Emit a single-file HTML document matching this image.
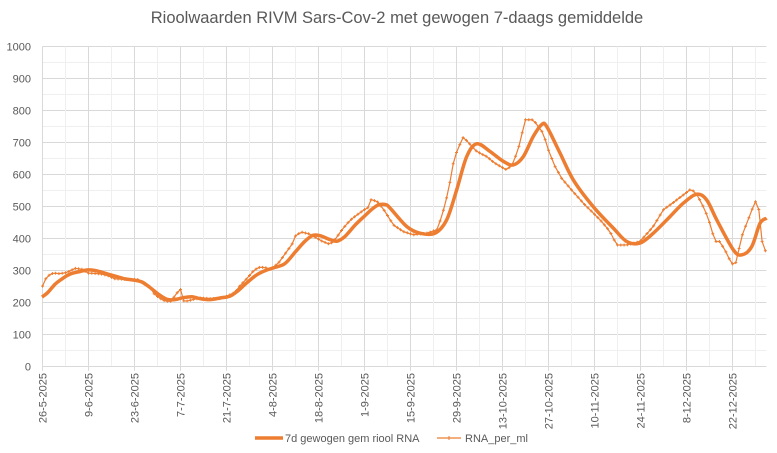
<!DOCTYPE html>
<html><head><meta charset="utf-8"><style>
html,body{margin:0;padding:0;background:#fff;}
svg{display:block;font-family:"Liberation Sans",Arial,sans-serif;}
</style></head><body>
<svg id="s" width="777" height="453" viewBox="0 0 777 453" xmlns="http://www.w3.org/2000/svg">
<rect width="777" height="453" fill="#fff"/>
<text x="397" y="23" text-anchor="middle" font-size="16.5" fill="#595959">Rioolwaarden RIVM Sars-Cov-2 met gewogen 7-daags gemiddelde</text>
<g id="grid"></g>
<g id="lab" font-size="11" fill="#595959"></g>
<g id="data"></g>
<line x1="255" y1="438" x2="283" y2="438" stroke="#ED7D31" stroke-width="3.5"/>
<text x="285" y="442" font-size="11" fill="#595959">7d gewogen gem riool RNA</text>
<line x1="437" y1="438" x2="461" y2="438" stroke="#ED7D31" stroke-width="1.3"/>
<path d="M447 438h4M449 436v4" stroke="#ED7D31" stroke-width="1"/>
<text x="465" y="442" font-size="11" fill="#595959">RNA_per_ml</text>
</svg>
<script>
var NS="http://www.w3.org/2000/svg";
function el(p,t,a){var e=document.createElementNS(NS,t);for(var k in a)e.setAttribute(k,a[k]);p.appendChild(e);return e;}
var g=document.getElementById('grid'),lab=document.getElementById('lab'),d=document.getElementById('data');
var X0=42.5,X1=766.5,Y0=365.7,S=0.3193;
function Y(v){return Y0-v*S;}
// horizontal grid
for(var v=0;v<=1000;v+=50){var y=Math.round(Y(v))+0.5;
 el(g,'line',{x1:X0,x2:X1,y1:y,y2:y,stroke:v%100?'#efefef':'#d9d9d9','stroke-width':1});
 if(v%100==0){var t=el(lab,'text',{x:31,y:y+4,'text-anchor':'end'});t.textContent=v;}}
var labels=["26-5-2025","9-6-2025","23-6-2025","7-7-2025","21-7-2025","4-8-2025","18-8-2025","1-9-2025","15-9-2025","29-9-2025","13-10-2025","27-10-2025","10-11-2025","24-11-2025","8-12-2025","22-12-2025"];
var step=46/14;
for(var i=0;i*7*step+X0<=X1+0.5;i++){var x=Math.round(X0+i*7*step-0.5)+0.5;
 el(g,'line',{x1:x,x2:x,y1:Y(1000),y2:Y0,stroke:i%2?'#efefef':'#d9d9d9','stroke-width':1});
 if(i%2==0){el(g,'line',{x1:x,x2:x,y1:Y0,y2:Y0+5,stroke:'#d9d9d9'});
  var t=el(lab,'text',{transform:'translate('+(x+4)+',373) rotate(-90)','text-anchor':'end'});t.textContent=labels[i/2];}}
el(g,'line',{x1:X0,x2:X1,y1:Math.round(Y0)+0.5,y2:Math.round(Y0)+0.5,stroke:'#d9d9d9'});
var sm=[[42,215],[48,230],[55,255],[62,272],[70,287],[80,295],[88,300],[95,298],[103,292],[110,285],[118,278],[125,272],[134,268],[142,262],[150,245],[158,225],[167,208],[175,207],[183,213],[192,216],[200,210],[210,207],[220,212],[230,218],[238,235],[247,260],[257,285],[267,300],[275,308],[285,320],[295,355],[305,390],[313,408],[320,407],[330,395],[337,390],[345,405],[355,440],[365,470],[372,490],[378,503],[385,505],[390,494],[406.7,436],[420,415],[435,415],[446.7,457],[456.7,551],[466.7,655],[476.7,695],[490,671],[503.3,640],[513.3,629],[523.3,655],[533.3,718],[541.7,755],[546.7,749],[560,666],[573.3,582],[593.3,498],[613.3,431],[626.7,389],[640,384],[653.3,415],[670,467],[683.3,509],[696.7,537],[706.7,519],[716.7,457],[733.3,363],[741.7,347],[751.7,373],[760,446],[766.7,462]];
var raw=[[42.3,248],[46.7,279],[53,290],[60,288],[67,292],[75,305],[82,302],[88,290],[100,288],[108,282],[115,272],[130,270],[138,270],[142,260],[150,245],[155,222],[163,205],[170,200],[172,205],[176,225],[181,240],[184,200],[190,205],[200,212],[210,210],[220,210],[230,222],[235,230],[240,250],[246,270],[253,295],[258,308],[265,308],[270,300],[278,320],[285,350],[292,380],[296,410],[302,418],[310,412],[322,390],[330,380],[335,395],[343,430],[350,455],[356,470],[365,490],[368,495],[371,520],[377,515],[380,504],[385,483],[393.3,441],[403.3,420],[413.3,410],[426.7,415],[436.7,425],[441.7,467],[448.3,545],[453.3,634],[457.3,676],[463.3,716],[476.7,671],[486.7,655],[495,634],[506.7,613],[513.3,634],[520,697],[525,770],[533.3,770],[543.3,728],[548.3,676],[555,624],[561.7,587],[570,556],[583.3,509],[600,457],[610,420],[616.7,378],[626.7,378],[640,389],[653.3,436],[663.3,488],[676.7,519],[690,551],[695,545],[701.7,509],[708.3,462],[715,389],[720,389],[726.7,352],[731.7,318],[736,323],[741.7,405],[750,472],[755,514],[758.3,509],[761,399],[765.7,357]];
function interp(arr,x){for(var i=1;i<arr.length;i++){if(arr[i][0]>=x){var a=arr[i-1],b=arr[i];return a[1]+(b[1]-a[1])*(x-a[0])/(b[0]-a[0]);}}return arr[arr.length-1][1];}
var rp=[];for(var x=42.5;x<=766;x+=step){rp.push([x,interp(raw,x)]);}
el(d,'polyline',{points:rp.map(function(p){return p[0].toFixed(1)+','+Y(p[1]).toFixed(1)}).join(' '),fill:'none',stroke:'#ED7D31','stroke-width':1.2});
var m='';rp.forEach(function(p){var y=Y(p[1]);m+='M'+(p[0]-1.5).toFixed(1)+' '+y.toFixed(1)+'h3M'+p[0].toFixed(1)+' '+(y-1.5).toFixed(1)+'v3';});
el(d,'path',{d:m,stroke:'#ED7D31','stroke-width':1,fill:'none'});
// smooth curve via catmull-rom
var pts=sm.map(function(p){return [p[0],Y(p[1])]});
var dd='M'+pts[0][0]+' '+pts[0][1];
for(var i=0;i<pts.length-1;i++){var p0=pts[Math.max(0,i-1)],p1=pts[i],p2=pts[i+1],p3=pts[Math.min(pts.length-1,i+2)];
 dd+='C'+(p1[0]+(p2[0]-p0[0])/6).toFixed(1)+' '+(p1[1]+(p2[1]-p0[1])/6).toFixed(1)+' '+(p2[0]-(p3[0]-p1[0])/6).toFixed(1)+' '+(p2[1]-(p3[1]-p1[1])/6).toFixed(1)+' '+p2[0]+' '+p2[1].toFixed(1);}
el(d,'path',{d:dd,fill:'none',stroke:'#ED7D31','stroke-width':3.5,'stroke-linejoin':'round'});
</script>
</body></html>
